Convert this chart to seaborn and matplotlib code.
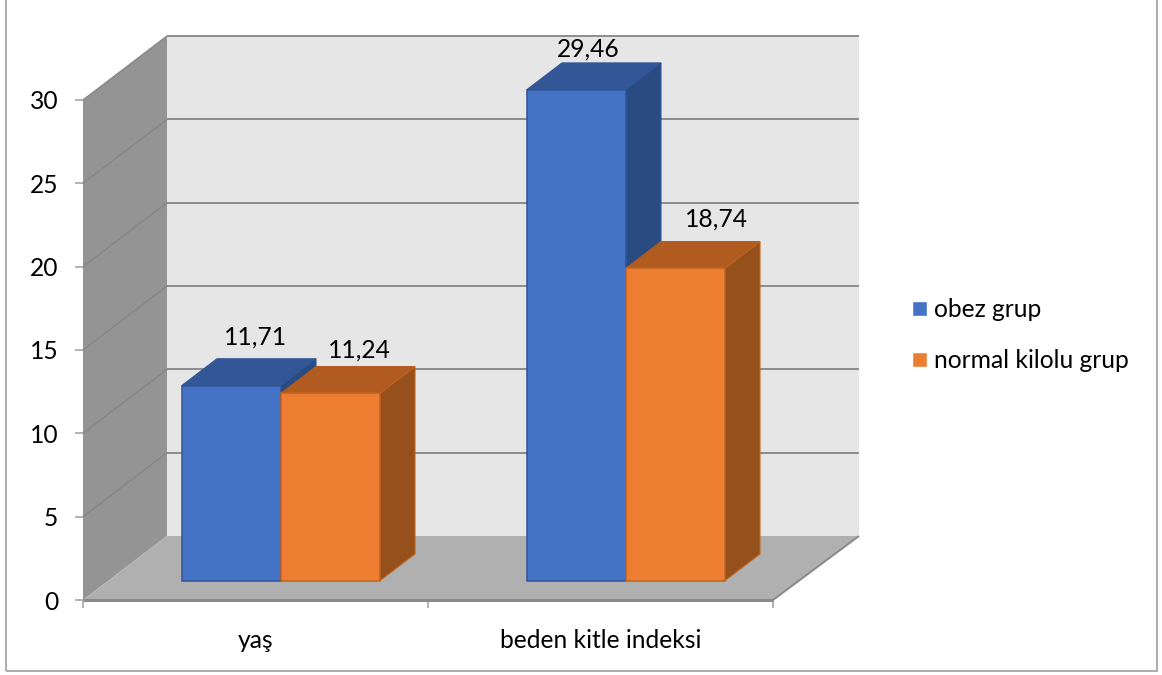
import matplotlib
matplotlib.use("Agg")
import matplotlib.pyplot as plt
from matplotlib.patches import Polygon, Rectangle
import pandas as pd
import seaborn as sns

# Values
categories = ["yaş", "beden kitle indeksi"]
series_names = ["obez grup", "normal kilolu grup"]
obez_values = [11.71, 29.46]
normal_values = [11.24, 18.74]
value_labels = ["11,71", "29,46", "11,24", "18,74"]
y_ticks = [0, 5, 10, 15, 20, 25, 30]

# Palette
FRONT = ["#4472C4", "#ED7D31"]
TOP = ["#335796", "#B25B21"]
SIDE = ["#2A4B82", "#96501C"]
EDGE = ["#2F5597", "#C0641F"]
WALL_BACK = "#E6E6E6"
WALL_SIDE = "#949494"
FLOOR = "#B0B0B0"
LINE = "#8C8C8C"
TICK = "#A6A6A6"

W, H, DPI = 1162, 675, 100
sns.set_theme(style="white")
plt.rcParams["font.family"] = ["Lato", "DejaVu Sans"]
FONT_SIZE = 17.7

PLOT_W = 690
fig = plt.figure(figsize=(W / DPI, H / DPI), dpi=DPI, facecolor="white")
ax = fig.add_axes([83 / W, 1 - 600 / H, PLOT_W / W, 500 / H])
ax.patch.set_alpha(0)

table = pd.DataFrame({
    "kategori": categories * 2,
    "grup": [series_names[0]] * 2 + [series_names[1]] * 2,
    "deger": obez_values + normal_values,
})
sns.barplot(data=table, x="kategori", y="deger", hue="grup", hue_order=series_names,
            palette=FRONT, width=0.574, gap=0, saturation=1, ax=ax, zorder=5)

ax.set_xlim(-0.5, 1.5)
ax.set_ylim(0, 30)

# Oblique depth: data-unit shift of one full step towards the back wall
DX = 84 / (PLOT_W / 2)
DY = 64 / (500 / 30)
BAR_FRONT, BAR_BACK = 0.30, 0.72


def deep(x, y, d):
    return (x + d * DX, y + d * DY)


def poly(points, color, z, edge=None, lw=0.0):
    ax.add_patch(Polygon(points, closed=True, facecolor=color, edgecolor=edge or color,
                         linewidth=lw, zorder=z, clip_on=False))


def hline(a, b, color=LINE, lw=1.4, z=2):
    ax.plot([a[0], b[0]], [a[1], b[1]], color=color, lw=lw, zorder=z, clip_on=False,
            solid_capstyle="butt")


x0, x1 = -0.5, 1.5
x1_back = x1 + 2 / (PLOT_W / 2)
y_top = y_ticks[-1]

# Back wall, side wall and floor
poly([deep(x0, 0, 1), deep(x1_back, 0, 1), deep(x1_back, y_top, 1), deep(x0, y_top, 1)], WALL_BACK, 1)
poly([deep(x0, 0, 0), deep(x0, 0, 1), deep(x0, y_top, 1), deep(x0, y_top, 0)], WALL_SIDE, 1)
poly([deep(x0, 0, 0), deep(x1, 0, 0), deep(x1_back, 0, 1), deep(x0, 0, 1)], FLOOR, 1.5)

# Gridlines run across the back wall and down the side wall
for t in y_ticks[1:]:
    hline(deep(x0, t, 1), deep(x1_back, t, 1))
    hline(deep(x0, t, 0), deep(x0, t, 1), color="#868686", lw=1.0)
hline(deep(x0, 0, 0), deep(x1, 0, 0), color="#8A8A8A", lw=2.2, z=3)
hline(deep(x1, 0, 0), deep(x1_back, 0, 1), color="#8A8A8A", lw=1.4, z=3)

# Extrude each bar: shift the front face back, then add its top and side faces
bars = sorted([p for p in ax.patches if isinstance(p, Rectangle) and p.get_zorder() == 5],
              key=lambda p: p.get_x())
bars = [b for b in bars if b.get_height() > 0]
series_of_bar = [0, 1, 0, 1]
order_of_labels = [0, 2, 1, 3]
label_offsets = [(24, 49), (29, 43), (12, 41), (41, 49)]

for i, bar in enumerate(bars):
    s = series_of_bar[i]
    z = 5 + i
    left, width, height = bar.get_x(), bar.get_width(), bar.get_height()
    right = left + width
    bar.set_x(left + BAR_FRONT * DX)
    bar.set_y(BAR_FRONT * DY)
    bar.set_edgecolor(EDGE[s])
    bar.set_linewidth(1.1)
    bar.set_clip_on(False)
    bar.set_zorder(z + 0.5)
    poly([deep(left, height, BAR_FRONT), deep(right, height, BAR_FRONT),
          deep(right, height, BAR_BACK), deep(left, height, BAR_BACK)], TOP[s], z, edge=TOP[s], lw=0.8)
    poly([deep(right, 0, BAR_FRONT), deep(right, 0, BAR_BACK),
          deep(right, height, BAR_BACK), deep(right, height, BAR_FRONT)], SIDE[s], z, edge=EDGE[s], lw=0.8)
    ox, oy = label_offsets[i]
    ax.annotate(value_labels[order_of_labels[i]],
                xy=deep(left + width / 2, height, BAR_FRONT),
                xytext=(ox * 72 / DPI, oy * 72 / DPI), textcoords="offset points",
                ha="center", va="center", fontsize=FONT_SIZE, color="black",
                annotation_clip=False, zorder=20)

# Axes furniture
sns.despine(ax=ax, left=True, bottom=True, right=True, top=True)
ax.set_xlabel("")
ax.set_ylabel("")
ax.set_yticks(y_ticks)
ax.set_yticklabels([str(t) for t in y_ticks])
ax.tick_params(axis="y", left=True, length=5.8, width=1.2, color=TICK, pad=12,
               labelsize=FONT_SIZE, labelcolor="black")
ax.set_xticks([-0.5, 0.5, 1.5])
ax.set_xticklabels([])
ax.set_xticks([0, 1], minor=True)
ax.set_xticklabels(categories, minor=True)
ax.tick_params(axis="x", which="major", bottom=True, length=6, width=1.2, color=TICK)
ax.tick_params(axis="x", which="minor", bottom=False, length=0, pad=21,
               labelsize=FONT_SIZE, labelcolor="black")

# Legend
ax.legend(loc="center left", bbox_to_anchor=(912 / W, 1 - 335 / H),
          bbox_transform=fig.transFigure, frameon=False, fontsize=FONT_SIZE,
          handlelength=0.61, handleheight=0.57, handletextpad=0.29,
          labelspacing=1.12, borderpad=0, borderaxespad=0, title=None, labelcolor="black")

# Chart area outline, running off the top of the canvas
fig.add_artist(Rectangle((6 / W, 1 - 671 / H), 1151 / W, 680 / H, transform=fig.transFigure,
                         fill=False, edgecolor="#A6A6A6", linewidth=1.3))

fig.savefig("out.png", dpi=DPI)
